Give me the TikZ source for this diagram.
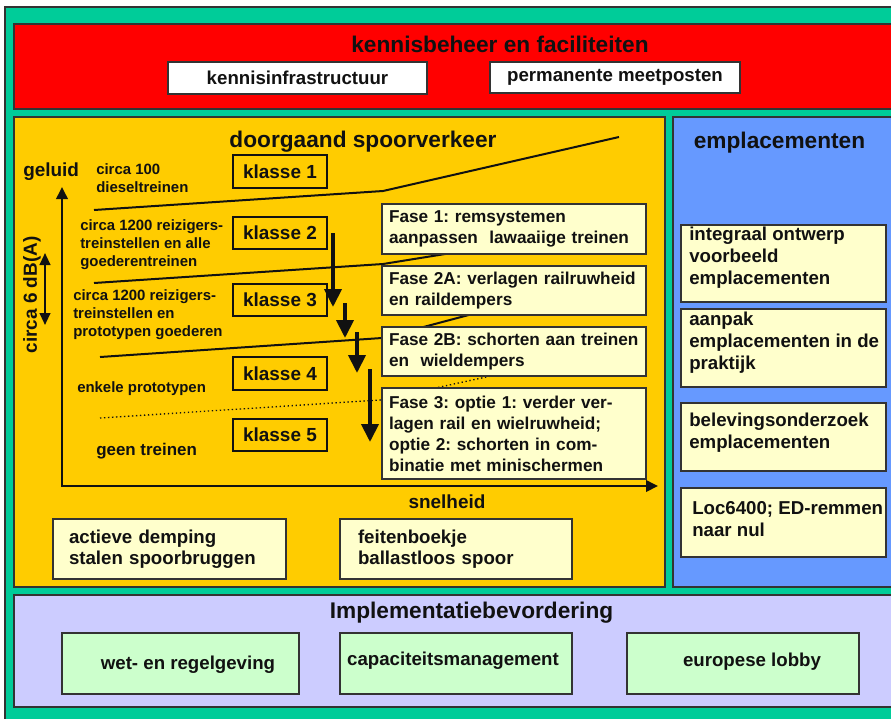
\documentclass[tikz,border=0pt]{standalone}
\usepackage{fontspec}
\setmainfont{Liberation Sans}
\usetikzlibrary{arrows.meta,positioning}
\definecolor{Sea}{HTML}{00CC99}
\definecolor{Signal}{HTML}{FF0000}
\definecolor{Amber}{HTML}{FFCC00}
\definecolor{Sky}{HTML}{6699FF}
\definecolor{Lilac}{HTML}{CCCCFF}
\definecolor{Cream}{HTML}{FFFFCC}
\definecolor{Mint}{HTML}{CCFFCC}
\definecolor{Ink}{HTML}{111111}
\definecolor{Edge}{HTML}{333333}
\frenchspacing

\begin{document}
\begin{tikzpicture}[x=0.75pt,y=-0.75pt,
  panel/.style={draw=Edge,line width=0.9pt},
  title/.style={font=\bfseries\fontsize{17}{20}\selectfont,text=Ink,inner sep=0pt},
  lbl/.style={font=\bfseries\fontsize{11.2}{13.5}\selectfont,text=Ink,align=left,inner sep=0pt,anchor=west},
  axislbl/.style={font=\bfseries\fontsize{14.2}{16}\selectfont,text=Ink,inner sep=0pt},
  klasbox/.style={draw=Ink,line width=1.4pt,minimum width=70.5pt,minimum height=24.5pt,inner sep=0pt,font=\bfseries\fontsize{14.2}{16}\selectfont,text=Ink},
  fasebox/.style={draw=Edge,line width=0.8pt,fill=Cream,text width=187.5pt,inner xsep=5.25pt,inner ysep=0pt,align=left,font=\bfseries\fontsize{12.9}{15.75}\selectfont,text=Ink},
  notebox/.style={draw=Edge,line width=0.8pt,fill=Cream,inner ysep=0pt,align=left,minimum height=45pt,font=\bfseries\fontsize{14}{15.75}\selectfont,text=Ink},
  cardbox/.style={draw=Edge,line width=0.8pt,fill=Cream,inner sep=0pt,minimum width=153.75pt},
  cardtxt/.style={font=\bfseries\fontsize{14}{16.5}\selectfont,text=Ink,align=left,inner sep=0pt,anchor=west},
  plainbox/.style={draw=Edge,line width=0.8pt,inner sep=0pt,font=\bfseries\fontsize{14}{16}\selectfont,text=Ink},
  plaintxt/.style={font=\bfseries\fontsize{14}{16}\selectfont,text=Ink,inner sep=0pt},
  band/.style={line width=1.5pt,draw=Ink},
  drop/.style={line width=3pt,draw=Ink,-{Triangle[width=12.75pt,length=13.5pt]}},
  axis/.style={line width=1.9pt,draw=Ink,{Triangle[width=8.5pt,length=9pt]}-{Triangle[width=8.5pt,length=9pt]}},
  dbarrow/.style={line width=1.5pt,draw=Ink,{Triangle[width=8pt,length=9pt]}-{Triangle[width=8pt,length=9pt]}},
]
\useasboundingbox (0,0) rectangle (891,718);
\clip (0,0) rectangle (891,718);
\fill[white] (0,0) rectangle (891,718);
\draw[panel,fill=Sea] (5,7) rectangle (900,730);

% kennisbeheer
\draw[panel,fill=Signal] (14,24) rectangle (900,109);
\node[title] (kbTitle) at (500,44) {kennisbeheer en faciliteiten};
\node[plainbox,fill=white,minimum width=194.25pt,minimum height=24pt] (kInfra) at (297.5,78) {kennisinfrastructuur};
\node[plainbox,fill=white,minimum width=187.5pt,minimum height=23.25pt] (kMeet) at (615,77.5) {permanente meetposten};

% doorgaand spoorverkeer
\draw[panel,fill=Amber] (14,117) rectangle (665,587);
\node[title] (dsTitle) at (363,142) {doorgaand spoorverkeer};

\coordinate (origin) at (62,486);
\coordinate (yEnd) at (62,187);
\coordinate (xEnd) at (658,486);
\draw[axis] (yEnd) -- (origin) -- (xEnd);
\node[axislbl,anchor=west] (geluid) at (23,172) {geluid};
\node[axislbl] (snelheid) at (447,502) {snelheid};
\node[axislbl,rotate=90] (dbLbl) at (32,295) {circa 6 dB(A)};
\coordinate (dbTop) at (45,253);
\coordinate (dbBot) at (45,325);
\draw[dbarrow] (dbTop) -- (dbBot);

% klassegrenzen
\coordinate (b1a) at (94,210);
\coordinate (b1b) at (383,191);
\coordinate (b1c) at (619,137);
\coordinate (b2a) at (94,283);
\coordinate (b2b) at (383,264);
\coordinate (b2c) at (470,250);
\coordinate (b3a) at (100,357);
\coordinate (b3b) at (382,338);
\coordinate (b3c) at (480,312);
\coordinate (b4a) at (100,418);
\coordinate (b4b) at (380,400);
\coordinate (b4c) at (500,374);
\draw[band] (b1a) -- (b1b) -- (b1c);
\draw[band] (b2a) -- (b2b) -- (b2c);
\draw[band] (b3a) -- (b3b) -- (b3c);
\draw[line width=1pt,draw=Ink,dotted] (b4a) -- (b4b) -- (b4c);

\node[lbl] (diesel) at (96,178) {circa 100\\dieseltreinen};
\node[lbl] (alle) at (80,245) {circa 1200 reizigers-\\treinstellen en alle\\goederentreinen};
\node[lbl] (proto) at (73,315) {circa 1200 reizigers-\\treinstellen en\\prototypen goederen};
\node[lbl] (enkele) at (77,389) {enkele prototypen};
\node[lbl,font=\bfseries\fontsize{12.7}{15}\selectfont] (geen) at (96,451) {geen treinen};

\foreach \k/\y in {1/171.5,2/233,3/300,4/373.5,5/435}
  \node[klasbox] (klasse\k) at (280,\y) {klasse \k};

\node[fasebox,minimum height=37.5pt] (fase1) at (514,229) {Fase 1: remsystemen\\aanpassen\ \ lawaaiige treinen};
\node[fasebox,minimum height=36.75pt] (fase2a) at (514,290.5) {Fase 2A: verlagen railruwheid\\en raildempers};
\node[fasebox,minimum height=36.75pt] (fase2b) at (514,351.5) {Fase 2B: schorten aan treinen\\en\ \ wieldempers};
\node[fasebox,minimum height=68.25pt] (fase3) at (514,433.5) {Fase 3: optie 1: verder ver-\\lagen rail en wielruwheid;\\optie 2: schorten in com-\\binatie met minischermen};

\foreach \i/\x/\ya/\yb in {1/333/233/307,2/345/303/338,3/357/332/373,4/370/369/442}{
  \coordinate (dropTop\i) at (\x,\ya);
  \coordinate (dropEnd\i) at (\x,\yb);
  \draw[drop] (dropTop\i) -- (dropEnd\i);
}

\node[notebox,text width=150.75pt,inner xsep=12pt] (demping) at (169.5,549) {actieve demping\\stalen spoorbruggen};
\node[notebox,text width=147pt,inner xsep=13.5pt] (feiten) at (456,549) {feitenboekje\\ballastloos spoor};

% emplacementen
\draw[panel,fill=Sky] (673,117) rectangle (900,587);
\node[title] (emTitle) at (779.5,143) {emplacementen};
\foreach \n/\yc/\h/\tx/\ty/\txt in {
  1/263.5/57.75/689/258/{integraal ontwerp\\voorbeeld\\emplacementen},
  2/348/58.5/689/343/{aanpak\\emplacementen in de\\praktijk},
  3/437/51/689/432.5/{belevingsonderzoek\\emplacementen},
  4/522.5/51.75/692/519.5/{Loc6400; ED-remmen\\naar nul}}{
  \node[cardbox,minimum height=\h pt] (card\n) at (783.5,\yc) {};
  \node[cardtxt] (cardtxt\n) at (\tx,\ty) {\txt};
}

% implementatie
\draw[panel,fill=Lilac] (14,595) rectangle (900,707);
\node[title] (ibTitle) at (471.5,613) {Implementatiebevordering};
\foreach \n/\x/\w/\tx/\ty/\txt in {wet/180.5/177.75/188/665/{wet- en regelgeving},
    cap/456/174/453/661/{capaciteitsmanagement},
    lobby/743/174/752/662/{europese lobby}}{
  \node[plainbox,fill=Mint,minimum width=\w pt,minimum height=45.75pt] (\n) at (\x,663.5) {};
  \node[plaintxt] (\n txt) at (\tx,\ty) {\txt};
}
\end{tikzpicture}
\end{document}
